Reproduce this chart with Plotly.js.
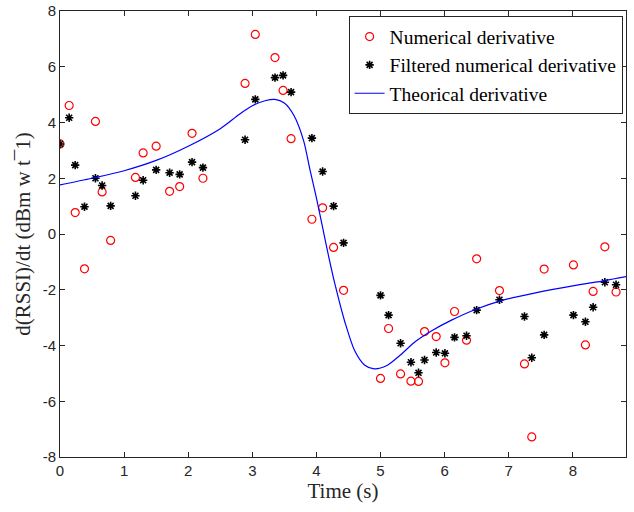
<!DOCTYPE html>
<html>
<head>
<meta charset="utf-8">
<script src="https://cdn.plot.ly/plotly-3.0.1.min.js"></script>
<style>html,body{margin:0;padding:0;background:#fff}#chart{width:634px;height:512px}</style>
</head>
<body>
<div id="chart"></div>
<script>
// Numerical derivative (red circles)
const numT = [0, 0.143, 0.237, 0.382, 0.553, 0.657, 0.79, 1.177, 1.297, 1.5, 1.71, 1.867, 2.06, 2.23, 2.887, 3.047, 3.354, 3.48, 3.605, 3.93, 4.097, 4.268, 4.424, 5.0, 5.126, 5.313, 5.475, 5.593, 5.687, 5.869, 6.005, 6.155, 6.342, 6.5, 6.856, 7.246, 7.36, 7.553, 8.01, 8.197, 8.317, 8.5, 8.675];
const numY = [3.23, 4.61, 0.77, -1.25, 4.04, 1.51, -0.23, 2.03, 2.91, 3.15, 1.53, 1.70, 3.61, 2.0, 5.40, 7.16, 6.33, 5.15, 3.42, 0.53, 0.94, -0.48, -2.02, -5.18, -3.39, -5.02, -5.28, -5.29, -3.50, -3.68, -4.62, -2.78, -3.81, -0.89, -2.03, -4.66, -7.28, -1.26, -1.11, -3.98, -2.06, -0.46, -2.08];
// Filtered numerical derivative (black stars)
const filtT = numT;
const filtY = [3.23, 4.17, 2.47, 0.98, 2.0, 1.74, 1.01, 1.37, 1.93, 2.30, 2.20, 2.14, 2.58, 2.38, 3.38, 4.83, 5.61, 5.69, 5.09, 3.44, 2.24, 1.0, -0.32, -2.20, -2.91, -3.92, -4.60, -4.98, -4.52, -4.25, -4.28, -3.71, -3.65, -2.73, -2.36, -2.96, -4.44, -3.62, -2.91, -3.15, -2.63, -1.73, -1.82];
// Theorical derivative (blue line)
const theoT = [0, 0.5, 1.0, 1.5, 2.0, 2.5, 2.8, 3.0, 3.2, 3.35, 3.5, 3.65, 3.8, 3.9, 4.0, 4.1, 4.2, 4.3, 4.45, 4.6, 4.75, 4.9, 5.1, 5.3, 5.55, 5.8, 6.1, 6.5, 6.9, 7.4, 8.0, 8.5, 8.83];
const theoY = [1.76, 2.0, 2.27, 2.64, 3.15, 3.78, 4.3, 4.6, 4.78, 4.83, 4.7, 4.25, 3.35, 2.3, 1.3, 0.2, -0.9, -1.9, -3.2, -4.2, -4.7, -4.84, -4.72, -4.36, -3.85, -3.47, -3.1, -2.69, -2.38, -2.12, -1.86, -1.67, -1.53];
const xTicks = [0, 1, 2, 3, 4, 5, 6, 7, 8];
const yTicks = [-8, -6, -4, -2, 0, 2, 4, 6, 8];

const axisColor = '#262626';
const data = [
  {x: numT, y: numY, type: 'scatter', mode: 'markers', name: 'Numerical derivative',
   marker: {symbol: 'circle-open', size: 8, color: '#ff0000', line: {width: 1.2, color: '#ff0000'}}},
  {x: filtT, y: filtY, type: 'scatter', mode: 'markers', name: 'Filtered numerical derivative',
   marker: {symbol: 'asterisk-open', size: 7, color: '#000000', line: {width: 1.6, color: '#000000'}}},
  {x: theoT, y: theoY, type: 'scatter', mode: 'lines', name: 'Theorical derivative',
   line: {color: '#0000ff', width: 1.2, shape: 'spline', smoothing: 0.8}}
];
const layout = {
  width: 634, height: 512,
  margin: {l: 60, r: 8, t: 11, b: 55},
  paper_bgcolor: '#ffffff', plot_bgcolor: '#ffffff',
  showlegend: true,
  legend: {x: 0.994, y: 0.988, xanchor: 'right', yanchor: 'top',
    bgcolor: '#ffffff', bordercolor: axisColor, borderwidth: 1,
    font: {family: 'Liberation Serif, Times New Roman, serif', size: 19.5, color: '#000'},
    tracegroupgap: 0, itemwidth: 30},
  xaxis: {range: [0, 8.83], tickvals: xTicks, ticktext: xTicks.map(String),
    ticks: 'inside', ticklen: 5, tickcolor: axisColor, showline: true, linecolor: axisColor, linewidth: 1,
    mirror: 'ticks', showgrid: false, zeroline: false,
    tickfont: {family: 'Liberation Sans, Arial, sans-serif', size: 15, color: axisColor},
    title: {text: 'Time (s)', font: {family: 'Liberation Serif, Times New Roman, serif', size: 21, color: axisColor}, standoff: 5}},
  yaxis: {range: [-8, 8], tickvals: yTicks, ticktext: yTicks.map(String),
    ticks: 'inside', ticklen: 5, tickcolor: axisColor, showline: true, linecolor: axisColor, linewidth: 1,
    mirror: 'ticks', showgrid: false, zeroline: false,
    tickfont: {family: 'Liberation Sans, Arial, sans-serif', size: 15, color: axisColor},
    title: {text: 'd(RSSI)/dt (dBm w t\u00AF1)', font: {family: 'Liberation Serif, Times New Roman, serif', size: 21, color: axisColor}, standoff: 6}}
};
Plotly.newPlot('chart', data, layout, {displayModeBar: false, staticPlot: true});
</script>
</body>
</html>
